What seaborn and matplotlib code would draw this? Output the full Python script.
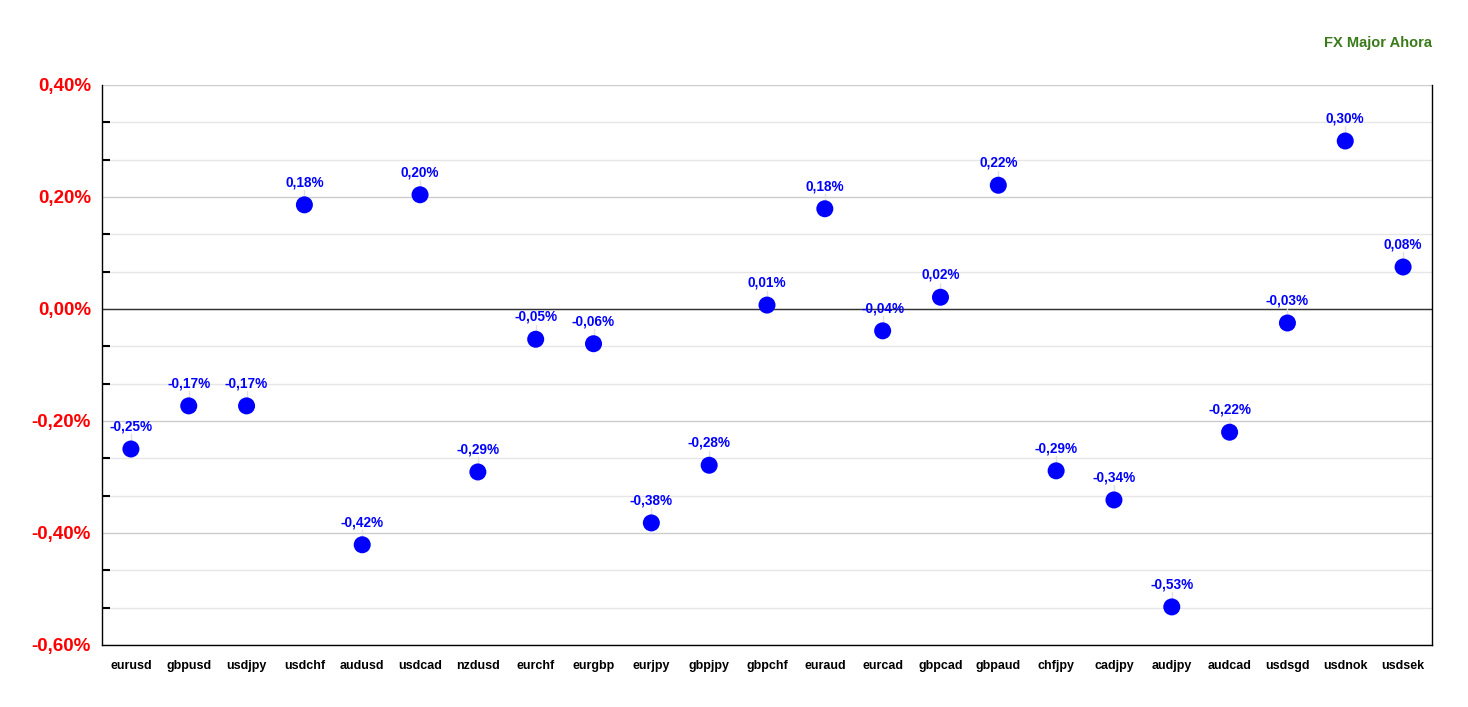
import matplotlib
matplotlib.use('Agg')
import matplotlib.pyplot as plt
import seaborn as sns
import pandas as pd
import numpy as np
from matplotlib.ticker import FixedLocator

# Datos del gráfico (variación % de pares FX)
pares = ['eurusd', 'gbpusd', 'usdjpy', 'usdchf', 'audusd', 'usdcad', 'nzdusd',
         'eurchf', 'eurgbp', 'eurjpy', 'gbpjpy', 'gbpchf', 'euraud', 'eurcad',
         'gbpcad', 'gbpaud', 'chfjpy', 'cadjpy', 'audjpy', 'audcad', 'usdsgd',
         'usdnok', 'usdsek']
variacion = [-0.25, -0.173, -0.173, 0.186, -0.421, 0.204, -0.291,
             -0.054, -0.062, -0.382, -0.279, 0.007, 0.179, -0.039,
             0.021, 0.221, -0.289, -0.341, -0.532, -0.220, -0.025,
             0.30, 0.075]
etiquetas = ['-0,25%', '-0,17%', '-0,17%', '0,18%', '-0,42%', '0,20%', '-0,29%',
             '-0,05%', '-0,06%', '-0,38%', '-0,28%', '0,01%', '0,18%', '-0,04%',
             '0,02%', '0,22%', '-0,29%', '-0,34%', '-0,53%', '-0,22%', '-0,03%',
             '0,30%', '0,08%']
y_ticks = [0.4, 0.2, 0.0, -0.2, -0.4, -0.6]
y_labels = ['0,40%', '0,20%', '0,00%', '-0,20%', '-0,40%', '-0,60%']

df = pd.DataFrame({'par': pares, 'valor': variacion, 'pos': range(len(pares))})

sns.set_style('white')
plt.rcParams['font.family'] = ['Liberation Sans', 'DejaVu Sans']

W, H = 1468, 707
fig = plt.figure(figsize=(W / 100, H / 100), dpi=100)
ax = fig.add_axes([102 / W, 1 - 645 / H, (1432 - 102) / W, (645 - 85) / H])

# Rejilla mayor y menor
minor = [v for v in np.arange(-0.6, 0.41, 0.2 / 3) if abs(round(v / 0.2) * 0.2 - v) > 1e-6]
for v in minor:
    ax.axhline(v, color='#e6e6e6', lw=1, zorder=0)
for v in y_ticks:
    ax.axhline(v, color='#cccccc', lw=1, zorder=0)
ax.axhline(0, color='#333333', lw=1, zorder=1)

sns.scatterplot(data=df, x='pos', y='valor', ax=ax, color='#0000ff', s=150,
                edgecolor='none', zorder=3, legend=False)

for x, y, t in zip(df['pos'], df['valor'], etiquetas):
    ax.plot([x, x], [y, y + 0.026], color='#e0e0e0', lw=1, zorder=2)
    ax.text(x, y + 0.028, t, ha='center', va='bottom', color='#0000ff',
            fontsize=9.8, fontweight='bold', zorder=4)

ax.set_xlim(-0.5, len(pares) - 0.5)
ax.set_ylim(-0.6, 0.4)
ax.set_xticks(df['pos'])
ax.set_xticklabels(pares, fontsize=9, fontweight='bold', color='black')
ax.set_yticks(y_ticks)
ax.set_yticklabels(y_labels, fontsize=13.5, fontweight='bold', color='#ff0000')
ax.yaxis.set_minor_locator(FixedLocator(minor))
ax.tick_params(axis='x', which='major', direction='inout', length=12, width=1.5,
               color='black', pad=5)
ax.tick_params(axis='y', which='major', length=0, pad=8)
ax.tick_params(axis='y', which='minor', direction='in', length=6, width=1.5,
               color='black', left=True)
ax.set_xlabel('')
ax.set_ylabel('')

for lado in ['left', 'right', 'bottom']:
    ax.spines[lado].set_visible(True)
    ax.spines[lado].set_color('black')
    ax.spines[lado].set_linewidth(1)
ax.spines['top'].set_visible(False)

fig.text(1432 / W, 1 - 43 / H, 'FX Major Ahora', ha='right', va='center',
         color='#3a7a1a', fontsize=10.5, fontweight='bold')

fig.savefig('out.png', dpi=100)
